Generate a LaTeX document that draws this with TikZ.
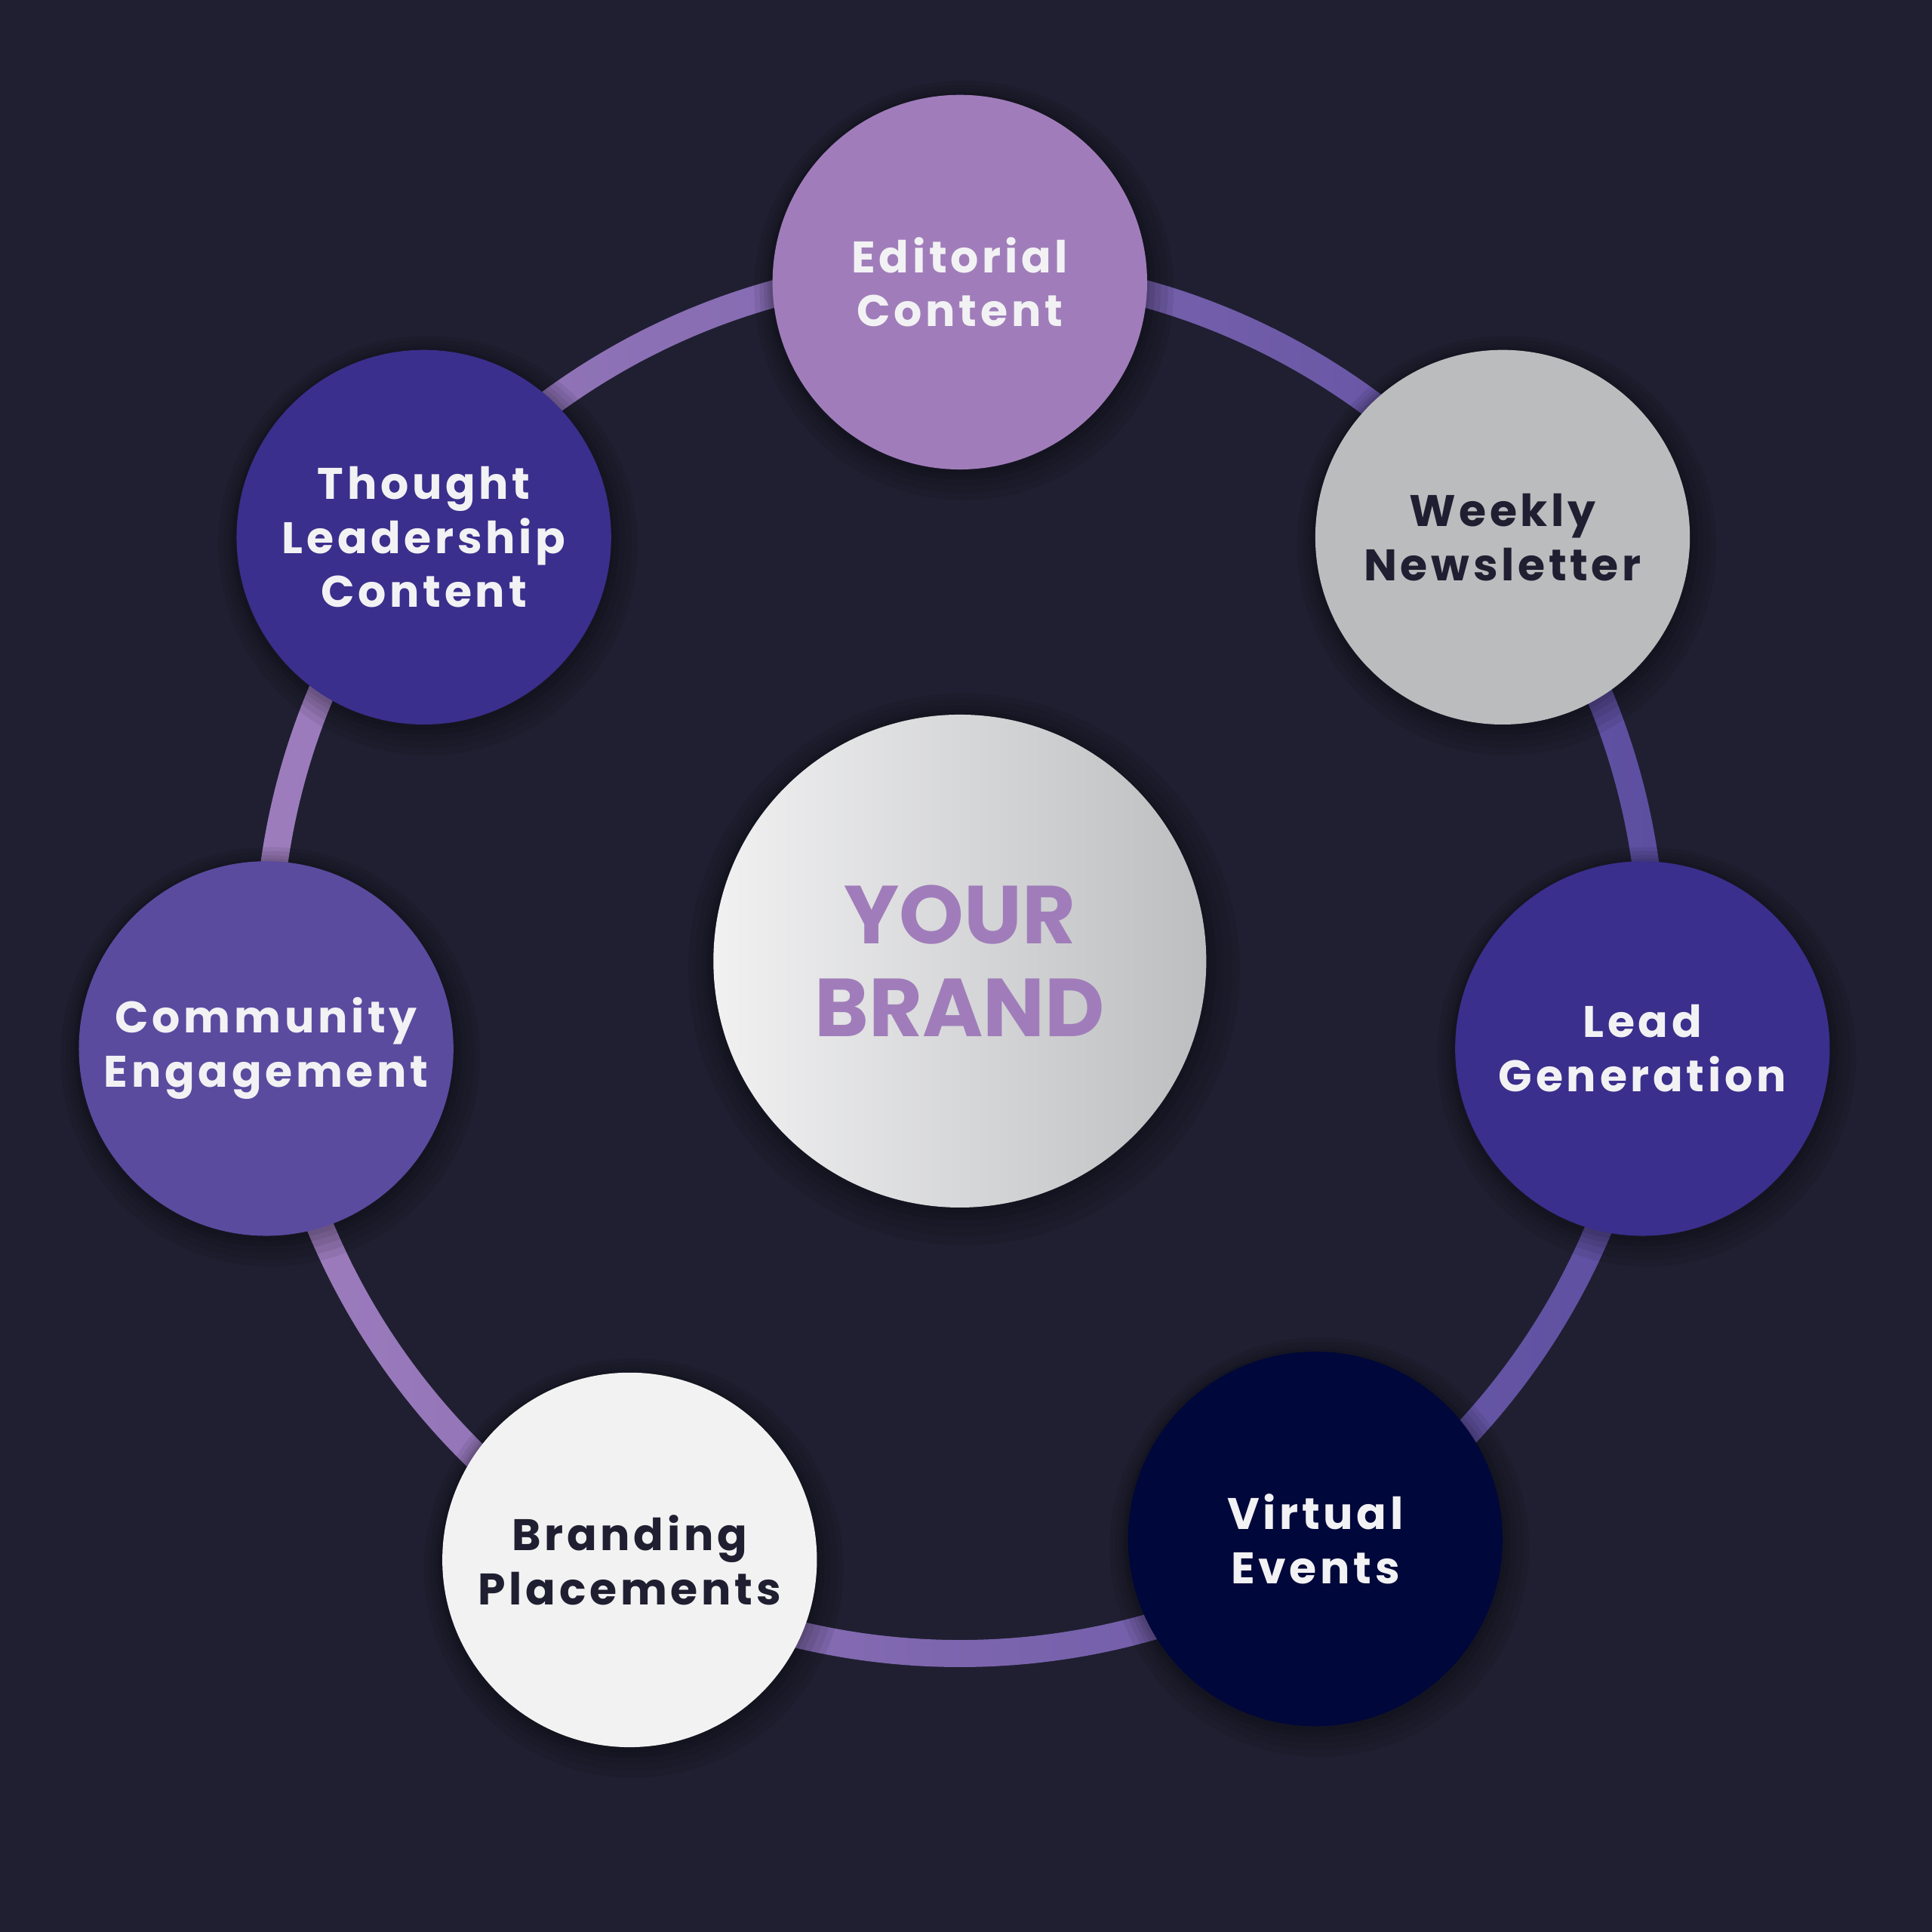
\documentclass[tikz,border=0pt]{standalone}
\usepackage{fontspec}
\usepackage{xcolor}
\usetikzlibrary{shadows}

\newfontfamily\labelfont{Poppins}[LetterSpace=8]
\newfontfamily\brandfont{Poppins}

\definecolor{bgnavy}{HTML}{1F1F31}
\definecolor{lilac}{HTML}{A07DBA}
\definecolor{silver}{HTML}{BBBCBE}
\definecolor{indigo}{HTML}{3A2F8C}
\definecolor{violet}{HTML}{5A4B9F}
\definecolor{midnight}{HTML}{00073A}
\definecolor{snow}{HTML}{F2F2F2}
\definecolor{lighttext}{HTML}{F2F2F4}
\definecolor{darktext}{HTML}{1F1F31}
\definecolor{ringlight}{HTML}{9E7DBD}
\definecolor{ringdark}{HTML}{5C4EA0}
\definecolor{brandlight}{HTML}{F1F1F2}
\definecolor{brandgrey}{HTML}{BDBEC0}

\pgfdeclarelayer{ringlayer}
\pgfsetlayers{ringlayer,main}

\tikzset{
  softshadow/.style={
    general shadow={fill=black, opacity=.07, shadow scale=1.12, shadow xshift=.3mm, shadow yshift=-.6mm},
    general shadow={fill=black, opacity=.07, shadow scale=1.09, shadow xshift=.3mm, shadow yshift=-.5mm},
    general shadow={fill=black, opacity=.07, shadow scale=1.06, shadow xshift=.2mm, shadow yshift=-.4mm},
    general shadow={fill=black, opacity=.07, shadow scale=1.035, shadow xshift=.1mm, shadow yshift=-.3mm},
    general shadow={fill=black, opacity=.07, shadow scale=1.015, shadow yshift=-.2mm},
  },
  hub/.style={circle, minimum size=30.4mm, inner sep=0pt, softshadow, align=center,
    font=\labelfont\bfseries\fontsize{10.2}{12.5}\selectfont},
}

\begin{document}
\begin{tikzpicture}[x=0.1mm, y=0.1mm]
% Centre
\node[circle, minimum size=40mm, inner sep=0pt, softshadow, left color=brandlight,
  right color=brandgrey, align=center, text=lilac,
  font=\brandfont\bfseries\fontsize{19}{21.4}\selectfont] (brand) at (779,788) {YOUR\\BRAND};

% Ring nodes
\node[hub, fill=lilac, text=lighttext] (editorial) at (779,1339) {Editorial\\Content};
\node[hub, fill=silver, text=darktext] (newsletter) at (1219.5,1132) {Weekly\\Newsletter};
\node[hub, fill=indigo, text=lighttext] (leadgen) at (1333,717) {Lead\\Generation};
\node[hub, fill=midnight, text=lighttext] (events) at (1067.5,319) {Virtual\\Events};
\node[hub, fill=snow, text=darktext] (branding) at (511,302) {Branding\\Placements};
\node[hub, fill=violet, text=lighttext] (community) at (216,717) {Community\\Engagement};
\node[hub, fill=indigo, text=lighttext] (thought) at (344,1132) {Thought\\Leadership\\Content};

% Background and ring
\begin{pgfonlayer}{ringlayer}
\fill[bgnavy] (0,0) rectangle (1568,1568);
\shade[even odd rule, left color=ringlight, right color=ringdark]
  (brand.center) circle[radius=573] (brand.center) circle[radius=551];
\end{pgfonlayer}
\end{tikzpicture}
\end{document}
